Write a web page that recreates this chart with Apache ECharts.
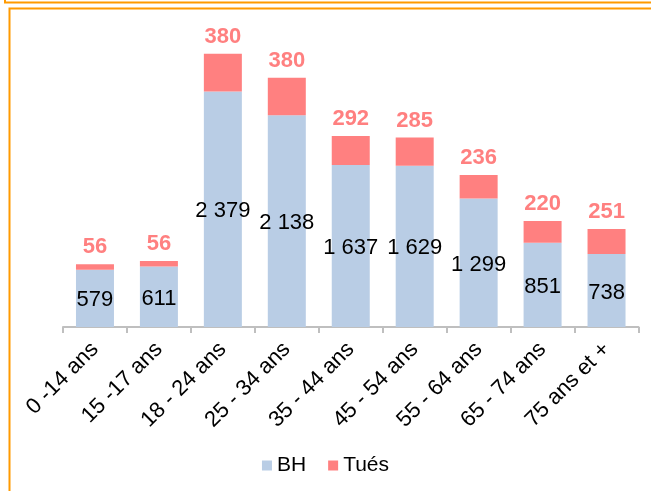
<!DOCTYPE html>
<html>
<head>
<meta charset="utf-8">
<script src="https://cdn.jsdelivr.net/npm/echarts@6/dist/echarts.min.js"></script>
<style>
  html, body { margin: 0; padding: 0; background: #ffffff; }
  #chart { width: 651px; height: 491px; }
</style>
</head>
<body>
<div id="chart"></div>
<script>
// Age groups along the horizontal axis
const categories = ['0 -14 ans', '15 -17 ans', '18 - 24 ans', '25 - 34 ans', '35 - 44 ans',
                    '45 - 54 ans', '55 - 64 ans', '65 - 74 ans', '75 ans et +'];
// Hospitalised injured (BH) per age group
const bhValues = [579, 611, 2379, 2138, 1637, 1629, 1299, 851, 738];
// Killed (Tués) per age group
const tuesValues = [56, 56, 380, 380, 292, 285, 236, 220, 251];

const BH_COLOR = '#b9cde5';
const TUES_COLOR = '#ff8080';
const FONT = 'Liberation Sans, Arial, sans-serif';

// 2379 -> "2 379"
function fmt(v) {
  return String(v).replace(/\B(?=(\d{3})+(?!\d))/g, ' ');
}

const chart = echarts.init(document.getElementById('chart'), null, { renderer: 'canvas' });

chart.setOption({
  animation: false,
  backgroundColor: '#ffffff',
  textStyle: { fontFamily: FONT },
  graphic: [
    // orange frame pieces
    { type: 'polyline', shape: { points: [[5, 0], [5, 2.5], [651, 2.5]] },
      style: { stroke: '#ff9a00', lineWidth: 2, fill: null } },
    { type: 'polyline', shape: { points: [[9.5, 491], [9.5, 8.5], [651, 8.5]] },
      style: { stroke: '#ff9a00', lineWidth: 2, fill: null } }
  ],
  legend: {
    data: ['BH', 'Tués'],
    bottom: 10,
    left: 'center',
    icon: 'rect',
    itemWidth: 10,
    itemHeight: 10,
    itemGap: 22,
    textStyle: { fontSize: 21, color: '#000', fontFamily: FONT }
  },
  grid: { left: 63, right: 12.5, top: 30, bottom: 164 },
  xAxis: {
    type: 'category',
    data: categories,
    axisLine: { lineStyle: { color: '#bfbfbf', width: 2 } },
    axisTick: { show: true, length: 6, lineStyle: { color: '#bfbfbf', width: 2 } },
    axisLabel: {
      rotate: 45,
      interval: 0,
      margin: 19,
      fontSize: 22,
      color: '#000',
      fontFamily: FONT
    }
  },
  yAxis: {
    type: 'value',
    min: 0,
    max: 3000,
    show: false,
    splitLine: { show: false }
  },
  series: [
    {
      name: 'BH',
      type: 'bar',
      stack: 'total',
      barWidth: 38,
      data: bhValues,
      itemStyle: { color: BH_COLOR },
      label: {
        show: true,
        position: 'inside',
        offset: [0, 2],
        formatter: p => fmt(p.value),
        fontSize: 22,
        color: '#000',
        fontFamily: FONT
      }
    },
    {
      name: 'Tués',
      type: 'bar',
      stack: 'total',
      barWidth: 38,
      data: tuesValues,
      itemStyle: { color: TUES_COLOR },
      label: {
        show: true,
        position: 'top',
        distance: 6,
        formatter: p => fmt(p.value),
        fontSize: 22,
        fontWeight: 'bold',
        color: TUES_COLOR,
        fontFamily: FONT
      }
    }
  ]
});
</script>
</body>
</html>
